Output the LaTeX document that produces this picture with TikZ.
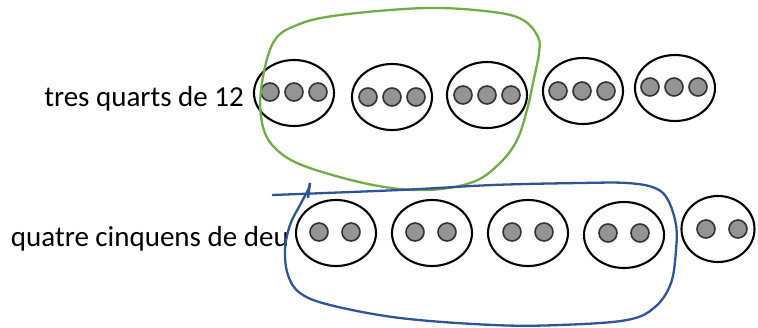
\documentclass[tikz,border=0pt]{standalone}
\usepackage{fontspec}
\setmainfont{Carlito}
\usetikzlibrary{shapes.geometric}
\begin{document}
\begin{tikzpicture}[x=1pt,y=-1pt,
  grp/.style={draw=black,line width=2.1pt,ellipse,minimum width=80pt,minimum height=66pt,inner sep=0pt},
  dot/.style={draw=black!80,fill=black!42,line width=1.6pt,circle,minimum size=18pt,inner sep=0pt},
  lbl/.style={font=\fontsize{29}{34}\selectfont,inner sep=0pt},
  greenloop/.style={draw={rgb,255:red,112;green,173;blue,71},line width=2.3pt},
  blueloop/.style={draw={rgb,255:red,47;green,85;blue,151},line width=2.3pt}]
\useasboundingbox (0,0) rectangle (758,327);
\node[lbl,anchor=base east] (t1) at (244,106) {tres quarts de 12};
\node[lbl,anchor=base east] (t2) at (289,246) {quatre cinquens de deu};
% top row
\node[grp] (a1) at (294,93) {};
\node[grp] (a2) at (392,97) {};
\node[grp] (a3) at (487,95) {};
\node[grp] (a4) at (583,91) {};
\node[grp] (a5) at (675,88) {};
\foreach \e/\x/\y in {1/294/92,2/392/97,3/487/95,4/582/91,5/674/87}{
  \node[dot] (a\e l) at (\x-24,\y) {};
  \node[dot] (a\e m) at (\x,\y) {};
  \node[dot] (a\e r) at (\x+24,\y) {};
}
% bottom row
\node[grp] (b1) at (336,233) {};
\node[grp] (b2) at (432,233) {};
\node[grp] (b3) at (528,233) {};
\node[grp] (b4) at (624,235) {};
\node[grp,minimum width=73pt] (b5) at (718,229) {};
\foreach \e/\x/\y in {1/335/232,2/431/232,3/528/232,4/624/233,5/722/229}{
  \node[dot] (b\e l) at (\x-16,\y) {};
  \node[dot] (b\e r) at (\x+16,\y) {};
}
% green loop
\draw[greenloop] plot[smooth cycle,tension=0.6] coordinates {
 (261,90) (273,43) (297,25) (340,15) (427,8) (493,12) (523,20) (538,37) (539,53)
 (533,83) (527,110) (517,140) (500,163) (473,182) (427,190) (373,185) (307,167)
 (277,150) (263,127)};
% blue loop
\draw[blueloop] plot[smooth,tension=0.6] coordinates {
 (272,195) (400,190) (493,185) (580,183) (627,183) (655,188) (668,200) (676,225)
 (676,250) (671,283) (655,307) (627,320) (560,325) (493,325) (400,318) (330,305)
 (300,293) (288,275) (285,250) (290,225) (300,205) (308,190) (310,183)};
\draw[blueloop] (310,183) -- (308,198);
\end{tikzpicture}
\end{document}
